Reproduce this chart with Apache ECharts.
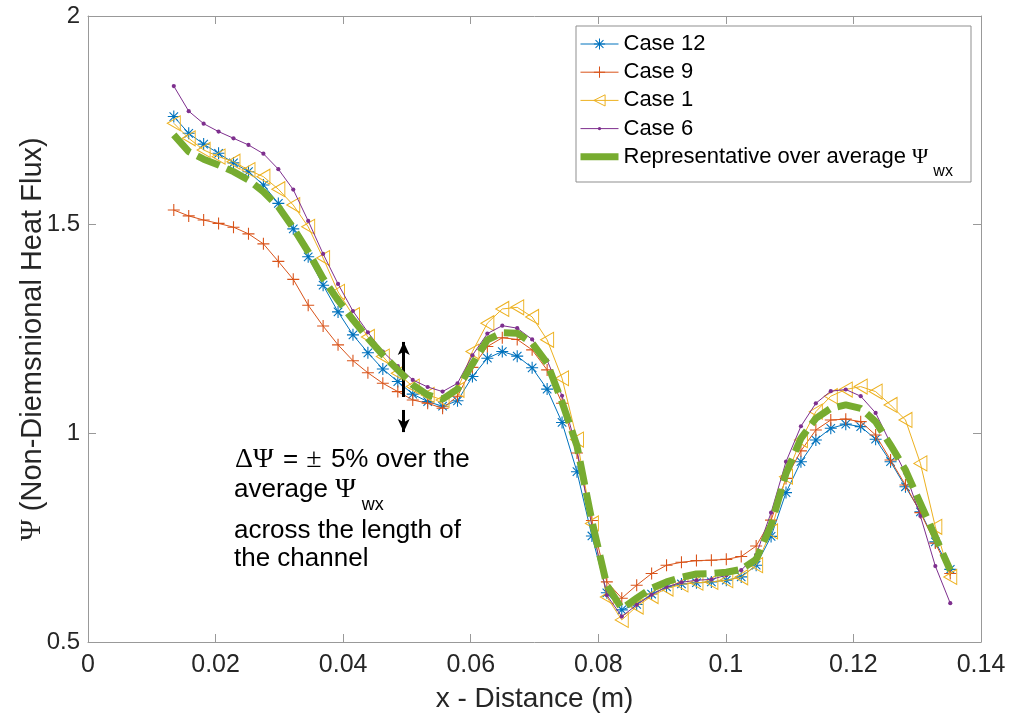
<!DOCTYPE html>
<html><head><meta charset="utf-8">
<script src="https://cdn.jsdelivr.net/npm/echarts@6/dist/echarts.min.js"></script>
<style>html,body{margin:0;padding:0;background:#fff;}#c{width:1011px;height:719px;}</style>
</head><body><div id="c"></div>
<script>
// ---- data ----
const xValues = [0.01345,0.01579,0.01813,0.02047,0.02281,0.02516,0.02750,0.02984,0.03218,0.03452,
  0.03686,0.03920,0.04154,0.04388,0.04622,0.04857,0.05091,0.05325,0.05559,0.05793,
  0.06027,0.06261,0.06495,0.06729,0.06963,0.07198,0.07432,0.07666,0.07900,0.08134,
  0.08368,0.08602,0.08836,0.09070,0.09304,0.09539,0.09773,0.10007,0.10241,0.10475,
  0.10709,0.10943,0.11177,0.11411,0.11645,0.11880,0.12114,0.12348,0.12582,0.12816,
  0.13050,0.13284,0.13518];
const case12 = [1.759,1.719,1.693,1.671,1.648,1.627,1.595,1.551,1.490,1.423,
  1.355,1.291,1.236,1.193,1.154,1.124,1.094,1.076,1.065,1.078,
  1.136,1.180,1.196,1.185,1.157,1.106,1.026,0.908,0.754,0.618,
  0.577,0.590,0.615,0.632,0.639,0.642,0.644,0.648,0.656,0.684,
  0.753,0.858,0.932,0.984,1.012,1.022,1.016,0.986,0.932,0.872,
  0.812,0.740,0.674];
const case9 = [1.535,1.521,1.511,1.503,1.494,1.478,1.454,1.412,1.369,1.307,
  1.257,1.212,1.174,1.145,1.120,1.100,1.080,1.072,1.060,1.089,
  1.158,1.208,1.229,1.225,1.200,1.152,1.072,0.953,0.791,0.644,
  0.605,0.636,0.664,0.684,0.691,0.695,0.696,0.698,0.705,0.730,
  0.792,0.892,0.958,1.008,1.032,1.034,1.028,0.996,0.936,0.876,
  0.810,0.737,0.664];
const case1 = [1.743,1.707,1.679,1.663,1.651,1.631,1.615,1.585,1.547,1.495,
  1.420,1.339,1.283,1.231,1.184,1.144,1.112,1.092,1.080,1.104,
  1.196,1.264,1.298,1.302,1.279,1.224,1.132,0.985,0.784,0.608,
  0.553,0.585,0.610,0.628,0.638,0.642,0.644,0.648,0.655,0.684,
  0.765,0.896,0.984,1.052,1.089,1.105,1.112,1.100,1.068,1.032,
  0.928,0.776,0.656];
const case6 = [1.832,1.772,1.742,1.723,1.707,1.691,1.670,1.633,1.584,1.509,
  1.430,1.358,1.293,1.242,1.196,1.161,1.128,1.111,1.100,1.120,
  1.187,1.239,1.258,1.252,1.225,1.175,1.090,0.960,0.778,0.612,
  0.561,0.589,0.613,0.632,0.643,0.648,0.650,0.660,0.672,0.709,
  0.810,0.932,1.017,1.072,1.101,1.105,1.089,1.049,0.976,0.904,
  0.802,0.682,0.593];
const representative = [1.715,1.675,1.657,1.643,1.627,1.607,1.579,1.543,1.492,1.435,
  1.371,1.319,1.272,1.228,1.188,1.152,1.116,1.092,1.082,1.106,
  1.166,1.224,1.241,1.240,1.216,1.168,1.075,0.970,0.790,0.636,
  0.580,0.605,0.629,0.644,0.655,0.663,0.664,0.667,0.674,0.698,
  0.780,0.904,0.988,1.036,1.060,1.068,1.060,1.028,0.972,0.912,
  0.832,0.752,0.672];
const xAxisRange = [0, 0.14, 0.02];   // min, max, interval
const yAxisRange = [0.5, 2, 0.5];
const arrowX = 0.0495;
const arrowUp = [1.087, 1.219];
const arrowDown = [1.056, 1.003];
const seriesNames = ['Case 12', 'Case 9', 'Case 1', 'Case 6', 'Representative over average \u03A8wx'];

// ---- styling ----
const FONT = '"Liberation Sans", Arial, Helvetica, sans-serif';
const SERIF = '"Liberation Serif", "DejaVu Serif", serif';
const TXT = '#262626';
const AXLINE = '#999999';
const C_BLUE = '#0072BD', C_ORANGE = '#D95319', C_YELLOW = '#EDB120', C_PURPLE = '#7E2F8E', C_GREEN = '#77AC30';

const SYM_AST = 'path://M0,9.1H20V10.9H0Z M9.1,0H10.9V20H9.1Z M3.57,2.29L17.71,16.43L16.43,17.71L2.29,3.57Z M2.29,16.43L16.43,2.29L17.71,3.57L3.57,17.71Z';
const SYM_PLUS = 'path://M0,9.1H20V10.9H0Z M9.1,0H10.9V20H9.1Z';
const SYM_TRI = 'path://M0,10L17.3,0L17.3,20Z';
const SYM_DOT = 'path://M0,0M20,20M10,7A3,3,0,1,1,10,13A3,3,0,1,1,10,7Z';

function pairs(ys) { return xValues.map((x, i) => [x, ys[i]]); }

const richBase = {
  n: {fontFamily: FONT, fontSize: 22, lineHeight: 28, color: '#000'},
  p: {fontFamily: SERIF, fontSize: 22, lineHeight: 28, color: '#000'},
  s: {fontFamily: FONT, fontSize: 16, lineHeight: 16, color: '#000', padding: [21, 0, -9, 5]}
};

function axisCommon(extra) {
  return Object.assign({
    type: 'value',
    axisLine: {show: true, onZero: false, lineStyle: {color: AXLINE, width: 1}},
    axisTick: {show: true, inside: true, length: 8, lineStyle: {color: AXLINE, width: 1}},
    splitLine: {show: false}
  }, extra);
}

function lineSeries(name, ys, color, symbol, size, extra) {
  return Object.assign({
    name: name, type: 'line', data: pairs(ys),
    symbol: symbol, symbolSize: size, showSymbol: true,
    lineStyle: {color: color, width: 1},
    itemStyle: {color: color},
    emphasis: {disabled: true}, silent: true, animation: false
  }, extra || {});
}

const chart = echarts.init(document.getElementById('c'), null, {renderer: 'canvas'});
const option = {
  animation: false,
  backgroundColor: '#ffffff',
  grid: {left: 88, right: 30, top: 16, bottom: 77, containLabel: false, outerBoundsMode: 'none'},
  xAxis: [
    axisCommon({min: xAxisRange[0], max: xAxisRange[1], interval: xAxisRange[2], position: 'bottom',
      name: 'x - Distance (m)', nameLocation: 'middle', nameGap: 43, nameMoveOverlap: false,
      nameTextStyle: {fontFamily: FONT, fontSize: 28, color: TXT},
      axisLabel: {show: true, fontFamily: FONT, fontSize: 25, color: TXT, margin: 11}}),
    axisCommon({min: xAxisRange[0], max: xAxisRange[1], interval: xAxisRange[2], position: 'top',
      axisLabel: {show: false}})
  ],
  yAxis: [
    axisCommon({min: yAxisRange[0], max: yAxisRange[1], interval: yAxisRange[2], position: 'left',
      name: '{p|\u03A8}{n| (Non-Diemsnional Heat Flux)}', nameLocation: 'middle', nameGap: 41,
      nameMoveOverlap: false,
      nameTextStyle: {color: TXT, rich: {
        p: {fontFamily: SERIF, fontSize: 29, color: TXT},
        n: {fontFamily: FONT, fontSize: 29, color: TXT, padding: [0, 20, 0, 0]}}},
      axisLabel: {show: true, fontFamily: FONT, fontSize: 24, color: TXT, margin: 8}}),
    axisCommon({min: yAxisRange[0], max: yAxisRange[1], interval: yAxisRange[2], position: 'right',
      axisLabel: {show: false}})
  ],
  legend: {
    orient: 'vertical', left: 580, top: 30,
    padding: 0, z: 20,
    itemWidth: 38, itemHeight: 14, itemGap: 0.2,
    backgroundColor: 'transparent', borderWidth: 0,
    selectedMode: false,
    lineStyle: {width: 1},
    textStyle: {fontFamily: FONT, fontSize: 22, lineHeight: 28, color: '#000', rich: richBase},
    formatter: function (name) {
      if (name === seriesNames[4]) return '{n|Representative over average }{p|\u03A8}{s|wx}';
      return '{n|' + name + '}';
    },
    data: [
      {name: seriesNames[0]},
      {name: seriesNames[1]},
      {name: seriesNames[2], itemStyle: {borderWidth: 1}},
      {name: seriesNames[3]},
      {name: seriesNames[4], icon: 'path://M0,0H38V7H0Z'}
    ]
  },
  graphic: [
    {type: 'rect', z: 15, silent: true, shape: {x: 576, y: 26, width: 395, height: 156},
      style: {fill: '#ffffff', stroke: '#8f8f8f', lineWidth: 1}},
    {type: 'text', x: 234, y: 460, silent: true, style: {
      text: '{d|\u0394\u03A8}{n| = }{d|\u00B1}{n| 5% over the}', verticalAlign: 'middle',
      rich: {n: {fontFamily: FONT, fontSize: 26, lineHeight: 30, color: '#000'},
             d: {fontFamily: SERIF, fontSize: 28, lineHeight: 30, color: '#000', padding: [0, 2, 0, 1]}}}},
    {type: 'text', x: 234, y: 490, silent: true, style: {
      text: '{n|average }{p|\u03A8}{s|wx}', verticalAlign: 'middle',
      rich: {n: {fontFamily: FONT, fontSize: 26, lineHeight: 30, color: '#000'},
             p: {fontFamily: SERIF, fontSize: 28, lineHeight: 30, color: '#000'},
             s: {fontFamily: FONT, fontSize: 18, lineHeight: 18, color: '#000', padding: [22, 0, -8, 6]}}}},
    {type: 'text', x: 234, y: 531, silent: true, style: {
      text: 'across the length of', verticalAlign: 'middle', fontFamily: FONT, fontSize: 26, fill: '#000'}},
    {type: 'text', x: 234, y: 559, silent: true, style: {
      text: 'the channel', verticalAlign: 'middle', fontFamily: FONT, fontSize: 26, fill: '#000'}}
  ],
  series: [
    lineSeries(seriesNames[0], case12, C_BLUE, SYM_AST, 12, {z: 2}),
    lineSeries(seriesNames[1], case9, C_ORANGE, SYM_PLUS, 12, {z: 3}),
    lineSeries(seriesNames[2], case1, C_YELLOW, SYM_TRI, [13, 15],
      {z: 4, itemStyle: {color: 'none', borderColor: C_YELLOW, borderWidth: 1}}),
    lineSeries(seriesNames[3], case6, C_PURPLE, SYM_DOT, 14, {z: 5}),
    lineSeries(seriesNames[4], representative, C_GREEN, 'none', 0,
      {z: 6, showSymbol: false, lineStyle: {color: C_GREEN, width: 7, type: [24, 8], cap: 'butt'}}),
    {
      type: 'line', data: [], z: 10, silent: true, symbol: 'none',
      markLine: {
        silent: true, animation: false, symbol: ['none', 'arrow'], symbolSize: [9, 13],
        label: {show: false}, emphasis: {disabled: true},
        lineStyle: {color: '#000000', width: 3, type: 'solid'},
        data: [
          [{coord: [arrowX, arrowUp[0]]}, {coord: [arrowX, arrowUp[1]]}],
          [{coord: [arrowX, arrowDown[0]]}, {coord: [arrowX, arrowDown[1]]}]
        ]
      }
    }
  ]
};
chart.setOption(option);
</script></body></html>
